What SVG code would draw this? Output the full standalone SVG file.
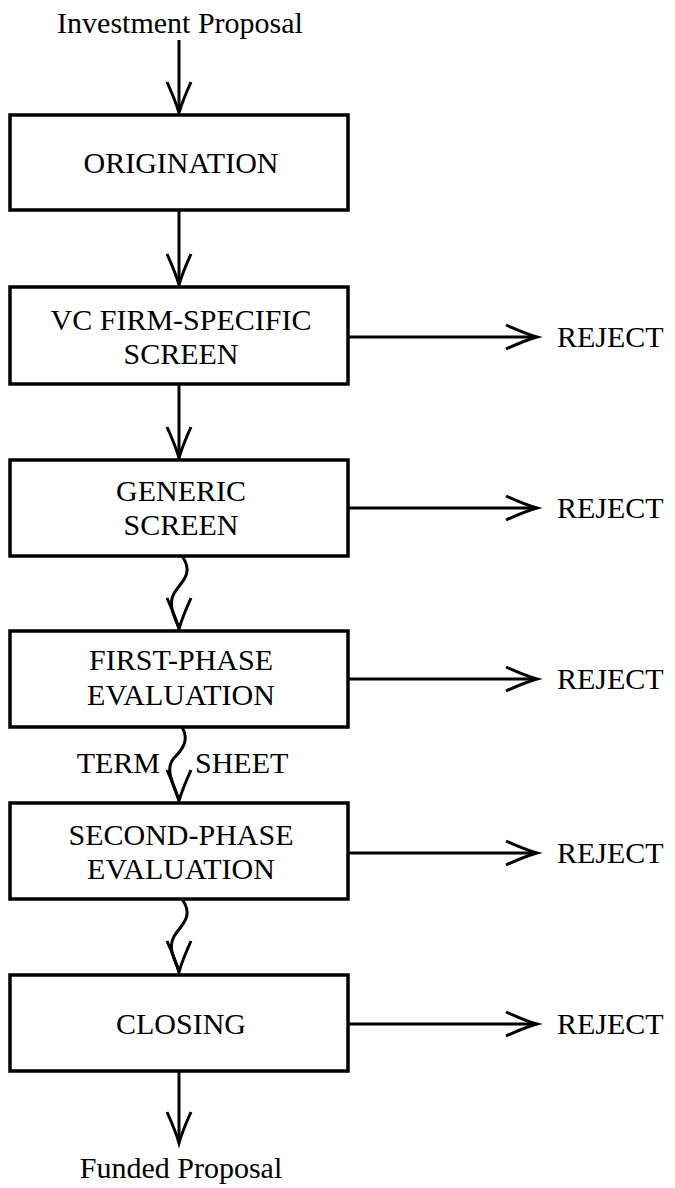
<svg xmlns="http://www.w3.org/2000/svg" xmlns:xlink="http://www.w3.org/1999/xlink" width="675" height="1188" viewBox="0 0 675 1188">
<style>
text{font-family:"Liberation Serif","Times New Roman",serif;font-size:30px;fill:#000}
.c{text-anchor:middle}
.box{fill:#fff;stroke:#000;stroke-width:3.5}
.ln{fill:none;stroke:#000;stroke-width:3}
.hd{fill:none;stroke:#000;stroke-width:3;stroke-linejoin:miter;stroke-miterlimit:10}
</style>
<defs>
<path id="hd" class="hd" d="M-12,-32 Q-3,-12 0,-1 Q3,-12 12,-32"/>
</defs>
<rect width="675" height="1188" fill="#fff"/>
<g id="connectors">
<line class="ln" x1="179" y1="40" x2="179" y2="112"/>
<use xlink:href="#hd" transform="translate(179,114)"/>
<line class="ln" x1="179" y1="210" x2="179" y2="284"/>
<use xlink:href="#hd" transform="translate(179,286)"/>
<line class="ln" x1="179" y1="384" x2="179" y2="457"/>
<use xlink:href="#hd" transform="translate(179,459)"/>
<path class="ln" d="M182,556 C192,570 186,578 177,589 C167,601 172,612 179,628"/>
<use xlink:href="#hd" transform="translate(179,630)"/>
<path class="ln" d="M182,727 C190,740 182,750 174,758 C165,768 172,782 179,800"/>
<use xlink:href="#hd" transform="translate(179,802)"/>
<path class="ln" d="M182,899 C192,913 186,921 177,932 C167,944 172,955 179,971"/>
<use xlink:href="#hd" transform="translate(179,973)"/>
<line class="ln" x1="179" y1="1071" x2="179" y2="1142"/>
<use xlink:href="#hd" transform="translate(179,1144)"/>
<line class="ln" x1="348" y1="337" x2="536" y2="337"/>
<use xlink:href="#hd" transform="translate(538,337) rotate(-90)"/>
<line class="ln" x1="348" y1="508" x2="536" y2="508"/>
<use xlink:href="#hd" transform="translate(538,508) rotate(-90)"/>
<line class="ln" x1="348" y1="679" x2="536" y2="679"/>
<use xlink:href="#hd" transform="translate(538,679) rotate(-90)"/>
<line class="ln" x1="348" y1="853" x2="536" y2="853"/>
<use xlink:href="#hd" transform="translate(538,853) rotate(-90)"/>
<line class="ln" x1="348" y1="1024" x2="536" y2="1024"/>
<use xlink:href="#hd" transform="translate(538,1024) rotate(-90)"/>
<text x="160" y="773" text-anchor="end">TERM</text>
<text x="195" y="773">SHEET</text>
</g>
<g id="input"><text class="c" x="180" y="33">Investment Proposal</text></g>
<g id="origination"><rect class="box" x="10" y="115" width="338" height="95"/><text class="c" x="181" y="173">ORIGINATION</text></g>
<g id="vc-screen"><rect class="box" x="10" y="287" width="338" height="97"/><text class="c" x="181" y="330">VC FIRM-SPECIFIC</text><text class="c" x="181" y="364">SCREEN</text></g>
<g id="generic-screen"><rect class="box" x="10" y="460" width="338" height="96"/><text class="c" x="181" y="501">GENERIC</text><text class="c" x="181" y="535">SCREEN</text></g>
<g id="first-phase"><rect class="box" x="10" y="631" width="338" height="96"/><text class="c" x="181" y="670">FIRST-PHASE</text><text class="c" x="181" y="705">EVALUATION</text></g>
<g id="second-phase"><rect class="box" x="10" y="803" width="338" height="96"/><text class="c" x="181" y="845">SECOND-PHASE</text><text class="c" x="181" y="879">EVALUATION</text></g>
<g id="closing"><rect class="box" x="10" y="975" width="338" height="96"/><text class="c" x="181" y="1034">CLOSING</text></g>
<g id="reject1"><text x="557" y="347">REJECT</text></g>
<g id="reject2"><text x="557" y="518">REJECT</text></g>
<g id="reject3"><text x="557" y="689">REJECT</text></g>
<g id="reject4"><text x="557" y="863">REJECT</text></g>
<g id="reject5"><text x="557" y="1034">REJECT</text></g>
<g id="output"><text class="c" x="181" y="1178">Funded Proposal</text></g>
</svg>
